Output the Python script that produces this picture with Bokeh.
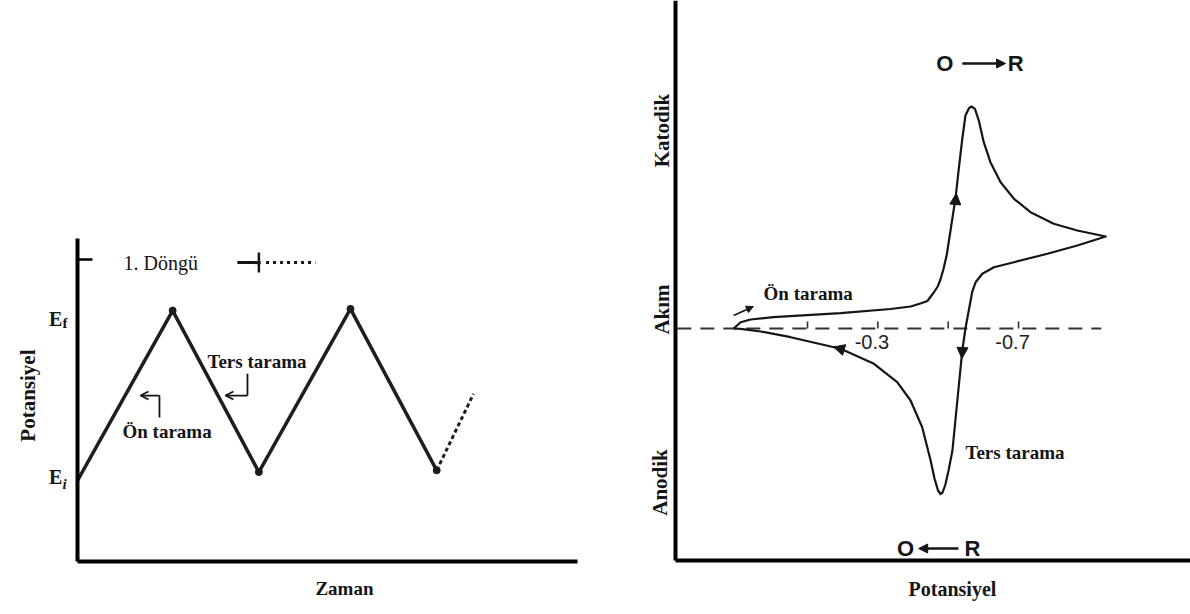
import math
from bokeh.plotting import figure
from bokeh.models import (Range1d, FixedTicker, Label, Arrow, OpenHead,
                          NormalHead, LinearAxis)
from bokeh.core.properties import value
from bokeh.layouts import row
from bokeh.embed import file_html
from bokeh.resources import INLINE

# ---------------- data ----------------
# Left panel: triangular potential waveform (time, potential)
wave_time = [0.0, 1.06, 2.02, 3.04, 4.00]
wave_pot = [0.0, 1.00, 0.05, 1.01, 0.06]
next_time = [4.00, 4.41]
next_pot = [0.06, 0.51]
E_i = 0.0
E_f = 1.0
cycle_level = 1.3
time_axis = (0.0, 5.57)
pot_axis = (-0.476, 1.424)

# Right panel: cyclic voltammogram (potential V, current, cathodic positive)
cv_E = [0.110, 0.090, 0.062, -0.003, -0.194, -0.336, -0.393, -0.421, -0.441,
        -0.459, -0.470, -0.478, -0.487, -0.496, -0.507, -0.521, -0.530, -0.540,
        -0.549, -0.559, -0.566, -0.576, -0.587, -0.601, -0.620, -0.649, -0.687,
        -0.734, -0.800, -0.867, -0.948,
        -0.867, -0.782, -0.687, -0.630, -0.597, -0.578, -0.568, -0.562, -0.549,
        -0.540, -0.526, -0.512, -0.501, -0.492, -0.484, -0.478, -0.471, -0.461,
        -0.450, -0.426, -0.393, -0.355, -0.289, -0.194, -0.052, 0.033, 0.090,
        0.110]
cv_i = [0.0, 0.63, 0.9, 1.13, 1.53, 1.95, 2.2, 2.5, 2.75,
        3.6, 4.2, 4.9, 6.0, 7.4, 9.9, 13.1, 15.97, 18.97,
        21.3, 22.03, 22.2, 21.97, 20.8, 18.63, 16.63, 14.63, 12.97,
        11.63, 10.47, 9.8, 9.2,
        8.3, 7.47, 6.63, 6.13, 5.47, 4.63, 3.63, 2.47, 0.0,
        -2.2, -7.2, -12.2, -14.2, -15.6, -16.4, -16.55, -16.2, -15.0,
        -13.2, -9.87, -7.2, -5.37, -3.53, -2.03, -0.87, -0.3, -0.03,
        0.0]
baseline_E = [0.27, -0.935]
baseline_i = [0.0, 0.0]
tick_E = [-0.1, -0.3, -0.5, -0.7]
tick_labels = ["", "-0.3", "", "-0.7"]
pot_axis_r = (-1.1888, 0.275)
cur_axis_r = (-23.2, 32.8)

INK = "#151515"
SERIF = "Liberation Serif"
SANS = "Liberation Sans"


def make_fig(width, xr, yr):
    p = figure(width=width, height=614, x_range=xr, y_range=yr,
               output_backend="svg", toolbar_location=None,
               x_axis_location=None, y_axis_location=None,
               min_border=0, min_border_left=0, min_border_right=0,
               min_border_top=0, min_border_bottom=0)
    p.grid.visible = False
    p.outline_line_color = None
    p.background_fill_color = "white"
    p.border_fill_color = "white"
    return p


def axis(loc, bounds, ticks=()):
    ax = LinearAxis(fixed_location=loc, bounds=bounds,
                    ticker=FixedTicker(ticks=list(ticks)))
    ax.axis_line_width = 4
    ax.axis_line_color = "black"
    ax.minor_tick_line_color = None
    ax.major_tick_out = 0
    ax.major_tick_in = 0
    ax.major_label_text_font_size = "0px"
    ax.major_label_text_color = None
    ax.major_label_standoff = 0
    ax.axis_label = None
    return ax


def lab(p, x, y, text, size="19px", font=SERIF, style_="bold", align="left",
        angle=0.0, xo=0, yo=0):
    p.add_layout(Label(x=x, y=y, text=text, text_font=font, text_font_size=size,
                       text_font_style=style_, text_align=align,
                       text_baseline="middle", text_color=INK, angle=angle,
                       x_offset=xo, y_offset=yo))


# ---------------- left panel ----------------
p1 = make_fig(600, Range1d(-0.857, 5.824), Range1d(-0.788, 2.824))
xa1 = axis(pot_axis[0], time_axis)
ya1 = axis(time_axis[0], pot_axis, ticks=[cycle_level])
ya1.major_tick_in = 15
ya1.major_tick_line_width = 2.5
ya1.major_tick_line_color = "black"
p1.add_layout(xa1, "below")
p1.add_layout(ya1, "left")

p1.line(wave_time, wave_pot, line_width=3.5, line_color="#1e1e1e")
p1.scatter(wave_time[1:], wave_pot[1:], size=7, color="#1e1e1e")
p1.line(next_time, next_pot, line_width=3, line_color="#1e1e1e", line_dash="4 3")

# cycle bracket
t_end = wave_time[2]
p1.line([1.78, t_end + 0.02], [1.282, 1.282], line_width=3, line_color=INK)
p1.line([t_end, t_end], [1.341, 1.224], line_width=2.5, line_color=INK)
p1.line([2.10, 2.65], [1.282, 1.282], line_width=3, line_color=INK, line_dash="3 4")
lab(p1, 0.512, 1.282, "1. Döngü", size="20px", style_="normal")

# E labels
lab(p1, 0, 0.953, "E", size="20px", align="right", xo=-15)
lab(p1, 0, 0.924, "f", size="15px", align="left", xo=-15)
lab(p1, 0, 0.018, "E", size="20px", align="right", xo=-15)
lab(p1, 0, -0.018, "i", size="15px", style_="bold italic", align="left", xo=-15)

lab(p1, 1.448, 0.70, "Ters tarama")
lab(p1, 0.501, 0.288, "Ön tarama")
lab(p1, 2.973, -0.635, "Zaman", align="center")
lab(p1, -0.546, 0.50, "Potansiyel", size="21px", align="center", angle=math.pi / 2)

# hook arrows
p1.line([0.913, 0.913], [0.5, 0.371], line_width=1.8, line_color=INK)
p1.add_layout(Arrow(end=OpenHead(size=8, line_width=1.8, line_color=INK),
                    x_start=0.913, y_start=0.5, x_end=0.702, y_end=0.5,
                    line_width=1.8, line_color=INK))
p1.line([1.893, 1.893], [0.629, 0.5], line_width=1.8, line_color=INK)
p1.add_layout(Arrow(end=OpenHead(size=8, line_width=1.8, line_color=INK),
                    x_start=1.893, y_start=0.5, x_end=1.648, y_end=0.5,
                    line_width=1.8, line_color=INK))

# ---------------- right panel ----------------
p2 = make_fig(590, Range1d(0.4885, -1.1888), Range1d(-28.6, 32.8))
xa2 = axis(cur_axis_r[0], pot_axis_r)
ya2 = axis(pot_axis_r[1], cur_axis_r)
p2.add_layout(xa2, "below")
p2.add_layout(ya2, "left")

p2.line(baseline_E, baseline_i, line_width=1.8, line_color="#333333", line_dash="14 9")
p2.segment(x0=tick_E, y0=[0] * len(tick_E), x1=tick_E, y1=[0.7] * len(tick_E),
           line_width=1.6, line_color="#333333")
p2.text(x=tick_E, y=[-1.3] * len(tick_E), text=tick_labels, x_offset=-6,
        text_font=value(SANS), text_font_size="20px", text_align="center",
        text_baseline="middle", text_color="#222222")
p2.line(cv_E, cv_i, line_width=2.2, line_color=INK, line_join="round")

head = dict(size=11, fill_color=INK, line_color=INK)
p2.add_layout(Arrow(end=NormalHead(**head), x_start=-0.516, y_start=10.8,
                    x_end=-0.523, y_end=13.5, line_alpha=0))
p2.add_layout(Arrow(end=NormalHead(**head), x_start=-0.545, y_start=1.0,
                    x_end=-0.539, y_end=-3.0, line_alpha=0))
p2.add_layout(Arrow(end=NormalHead(**head), x_start=-0.23, y_start=-2.4,
                    x_end=-0.174, y_end=-1.85, line_alpha=0))
p2.add_layout(Arrow(end=NormalHead(size=7, fill_color=INK, line_color=INK),
                    x_start=0.110, y_start=1.3, x_end=0.054, y_end=2.2,
                    line_width=1.6, line_color=INK))

lab(p2, 0.315, 19.8, "Katodik", size="21px", align="center", angle=math.pi / 2)
lab(p2, 0.315, 1.9, "Akım", size="21px", align="center", angle=math.pi / 2)
lab(p2, 0.318, -15.4, "Anodik", size="21px", align="center", angle=math.pi / 2)
lab(p2, 0.025, 3.5, "Ön tarama")
lab(p2, -0.549, -12.4, "Ters tarama")
lab(p2, -0.512, -26.0, "Potansiyel", size="20px", align="center")

# O -> R and O <- R
lab(p2, -0.490, 26.5, "O", size="22px", font=SANS, align="center")
p2.add_layout(Arrow(end=NormalHead(size=9, fill_color=INK, line_color=INK),
                    x_start=-0.540, y_start=26.5, x_end=-0.663, y_end=26.5,
                    line_width=2.5, line_color=INK))
lab(p2, -0.692, 26.5, "R", size="22px", font=SANS, align="center")
lab(p2, -0.379, -22.0, "O", size="22px", font=SANS, align="center")
p2.add_layout(Arrow(end=NormalHead(size=9, fill_color=INK, line_color=INK),
                    x_start=-0.529, y_start=-22.0, x_end=-0.416, y_end=-22.0,
                    line_width=2.5, line_color=INK))
lab(p2, -0.569, -22.0, "R", size="22px", font=SANS, align="center")

layout = row(p1, p2)
open("out.html", "w").write(file_html(layout, INLINE))
